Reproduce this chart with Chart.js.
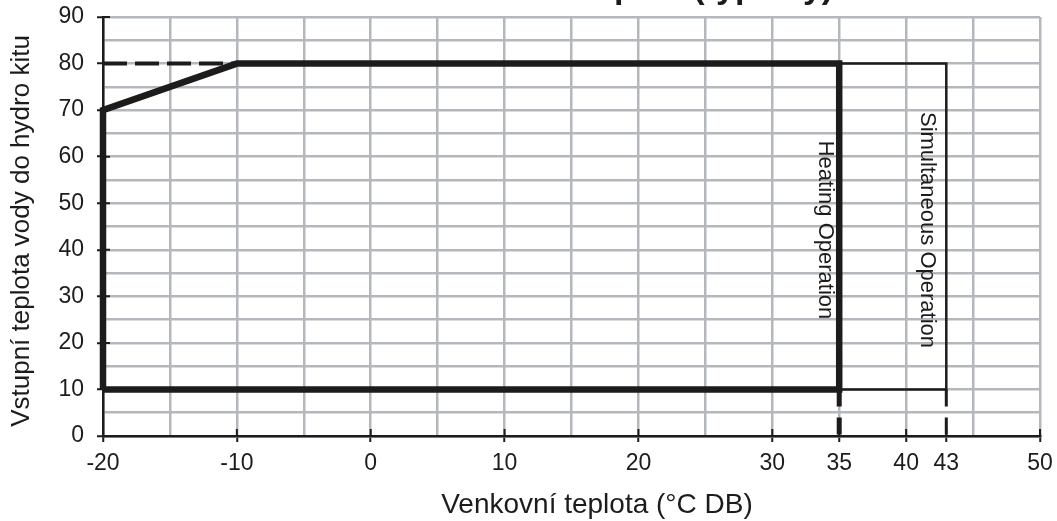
<!DOCTYPE html>
<html>
<head>
<meta charset="utf-8">
<script src="https://cdn.jsdelivr.net/npm/chart.js@4/dist/chart.umd.min.js"></script>
<style>
  html, body { margin: 0; padding: 0; background: #ffffff; }
  #wrap { width: 1057px; height: 521px; }
</style>
</head>
<body>
<div id="wrap"><canvas id="chart" width="1057" height="521"></canvas></div>
<script>
// ---- texts ----
const chartTitle = 'Provozní rozsah topení (typický)';
const xAxisTitle = 'Venkovní teplota (°C DB)';
const yAxisTitle = 'Vstupní teplota vody do hydro kitu';
const heatingLabel = 'Heating Operation';
const simultaneousLabel = 'Simultaneous Operation';

// ---- axes ----
const xTickLabels = [-20, -10, 0, 10, 20, 30, 35, 40, 43, 50];
const yTickLabels = [0, 10, 20, 30, 40, 50, 60, 70, 80, 90];
const xGridValues = [-20, -15, -10, -5, 0, 5, 10, 15, 20, 25, 30, 35, 40, 45, 50];
const yGridValues = [0, 5, 10, 15, 20, 25, 30, 35, 40, 45, 50, 55, 60, 65, 70, 75, 80, 85, 90];

// ---- operating envelopes (outdoor °C, water °C) ----
const heatingX = [-20, -20, -10, 35, 35, -20];
const heatingY = [10, 70, 80, 80, 10, 10];
const simultaneousX = [35, 43, 43, 35];
const simultaneousY = [80, 80, 10, 10];
const limitX = [-20, -10];
const limitY = [80, 80];
const heatingDropX = [35, 35];
const heatingDropY = [10, 0];
const simultaneousDropX = [43, 43];
const simultaneousDropY = [10, 0];

const INK = '#1d1b1c';
const GRID = '#b4b8bc';
const FONT = '"Liberation Sans", Arial, Helvetica, sans-serif';

const toPoints = (xs, ys) => xs.map((x, i) => ({ x: x, y: ys[i] }));

function lineSet(xs, ys, width, dash) {
  return {
    data: toPoints(xs, ys),
    showLine: true,
    borderColor: INK,
    backgroundColor: INK,
    borderWidth: width,
    borderDash: dash || [],
    borderJoinStyle: 'miter',
    borderCapStyle: 'butt',
    pointRadius: 0,
    pointHoverRadius: 0,
    tension: 0,
    fill: false,
    clip: false
  };
}

// Draws the axis titles, cut-off heading and rotated region labels
const annotations = {
  id: 'annotations',
  afterDraw(chart) {
    const { ctx, scales: { x, y } } = chart;
    ctx.save();
    ctx.fillStyle = INK;

    // heading (runs above the top edge)
    ctx.font = 'bold 34px ' + FONT;
    ctx.textAlign = 'center';
    ctx.textBaseline = 'alphabetic';
    ctx.fillText(chartTitle, (chart.chartArea.left + chart.chartArea.right) / 2, -2);

    // x axis title
    ctx.font = '28px ' + FONT;
    ctx.fillText(xAxisTitle, 597, 513);

    // y axis title
    ctx.save();
    ctx.font = '26px ' + FONT;
    ctx.translate(29, 231);
    ctx.rotate(-Math.PI / 2);
    ctx.fillText(yAxisTitle, 0, 0);
    ctx.restore();

    // region labels, reading downward beside their limit lines
    ctx.font = '22px ' + FONT;
    const labels = [
      { text: heatingLabel, at: 35, dx: -20 },
      { text: simultaneousLabel, at: 43, dx: -25 }
    ];
    labels.forEach(l => {
      ctx.save();
      ctx.translate(x.getPixelForValue(l.at) + l.dx, 230);
      ctx.rotate(Math.PI / 2);
      ctx.fillText(l.text, 0, 0);
      ctx.restore();
    });

    // inner halves of the tick marks
    ctx.strokeStyle = INK;
    ctx.lineWidth = 2;
    ctx.beginPath();
    xTickLabels.forEach(v => {
      const px = x.getPixelForValue(v);
      ctx.moveTo(px, y.bottom);
      ctx.lineTo(px, y.bottom - 7);
    });
    yTickLabels.forEach(v => {
      const py = y.getPixelForValue(v);
      ctx.moveTo(x.left, py);
      ctx.lineTo(x.left + 7, py);
    });
    ctx.stroke();
    ctx.restore();
  }
};

function gridScale(min, max, gridValues, tickLabels, size, isX) {
  const labelled = v => tickLabels.includes(v);
  return {
    type: 'linear',
    min: min,
    max: max,
    afterBuildTicks(scale) {
      const vals = Array.from(new Set(gridValues.concat(tickLabels))).sort((a, b) => a - b);
      scale.ticks = vals.map(v => ({ value: v }));
    },
    afterFit(scale) {
      if (isX) { scale.height = size; } else { scale.width = size; }
      scale.paddingLeft = 0;
      scale.paddingRight = 0;
      scale.paddingTop = 0;
      scale.paddingBottom = 0;
    },
    ticks: {
      autoSkip: false,
      maxRotation: 0,
      padding: isX ? 8 : 13,
      color: INK,
      font: { family: FONT, size: 23 },
      callback: v => (labelled(v) ? String(v) : '')
    },
    grid: {
      color: c => (c.tick && gridValues.includes(c.tick.value) ? GRID : 'rgba(0,0,0,0)'),
      lineWidth: 2.5,
      tickColor: c => (c.tick && labelled(c.tick.value) ? INK : 'rgba(0,0,0,0)'),
      tickLength: 6,
      tickWidth: 2,
      drawTicks: true
    },
    border: { display: true, color: INK, width: 2.5 }
  };
}

new Chart(document.getElementById('chart'), {
  type: 'scatter',
  data: {
    datasets: [
      lineSet(limitX, limitY, 4, [24, 8]),
      lineSet(heatingDropX, heatingDropY, 5, [17, 11]),
      lineSet(simultaneousDropX, simultaneousDropY, 3, [17, 11]),
      lineSet(simultaneousX, simultaneousY, 2.5),
      lineSet(heatingX, heatingY, 6.5)
    ]
  },
  options: {
    responsive: false,
    animation: false,
    devicePixelRatio: 1,
    layout: { padding: { top: 17, right: 17, left: 0, bottom: 0 } },
    plugins: {
      legend: { display: false },
      tooltip: { enabled: false },
      title: { display: false }
    },
    scales: {
      x: gridScale(-20, 50, xGridValues, xTickLabels, 85, true),
      y: gridScale(0, 90, yGridValues, yTickLabels, 103, false)
    }
  },
  plugins: [annotations]
});
</script>
</body>
</html>
